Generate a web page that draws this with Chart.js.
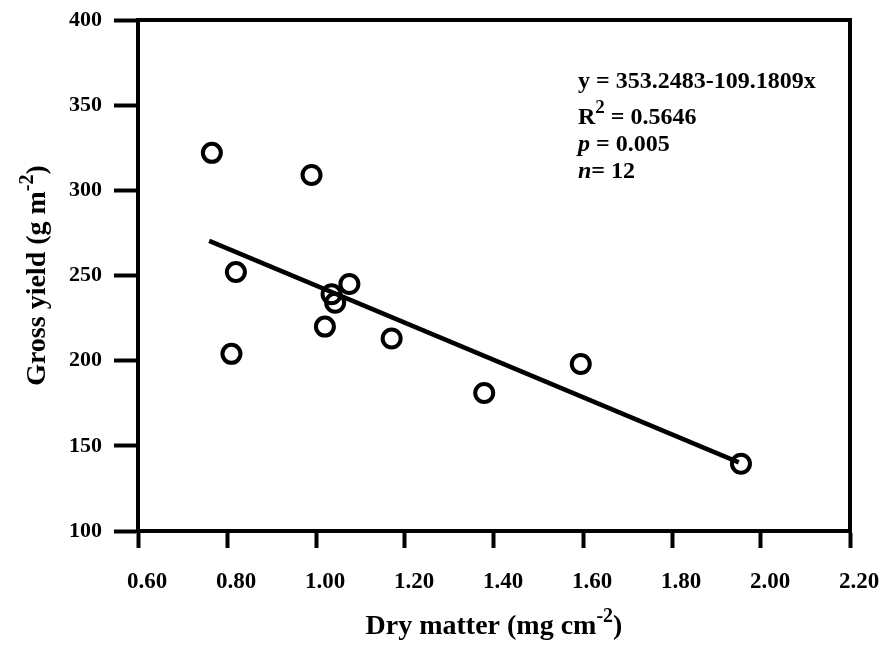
<!DOCTYPE html>
<html>
<head>
<meta charset="utf-8">
<script src="https://cdn.jsdelivr.net/npm/chart.js@4.4.0/dist/chart.umd.min.js"></script>
<style>
  html, body { margin: 0; padding: 0; background: #fff; }
  #wrap { width: 885px; height: 650px; }
</style>
</head>
<body>
<div id="wrap"><canvas id="chart"></canvas></div>
<script>
// observed points
const dryMatter = [0.766, 0.99, 0.82, 0.81, 1.02, 1.035, 1.043, 1.075, 1.17, 1.378, 1.595, 1.955];
const grossYield = [322, 309, 252, 204, 220, 239, 234, 245, 213, 181, 198, 139.5];

// regression line ends
const fitX = [0.76, 1.95];
const fitY = [270.3, 140.3];

const xTickValues = [0.6, 0.8, 1.0, 1.2, 1.4, 1.6, 1.8, 2.0, 2.2];
const xTickLabels = ['0.60', '0.80', '1.00', '1.20', '1.40', '1.60', '1.80', '2.00', '2.20'];
const yTickValues = [100, 150, 200, 250, 300, 350, 400];
const yTickLabels = ['100', '150', '200', '250', '300', '350', '400'];

const xTitle = [['Dry matter (mg cm', false], ['-2', true], [')', false]];
const yTitle = [['Gross yield (g m', false], ['-2', true], [')', false]];

const FONT = '"Liberation Serif", "Times New Roman", serif';

function setFont(ctx, size, italic) {
    ctx.font = (italic ? 'italic ' : '') + 'bold ' + size + 'px ' + FONT;
}

// runs: [text, size, italic, dy]
function runsWidth(ctx, runs) {
    let w = 0;
    runs.forEach(r => { setFont(ctx, r[1], r[2]); w += ctx.measureText(r[0]).width; });
    return w;
}

function drawRuns(ctx, x, y, runs) {
    runs.forEach(r => {
        setFont(ctx, r[1], r[2]);
        ctx.fillText(r[0], x, y + (r[3] || 0));
        x += ctx.measureText(r[0]).width;
    });
}

function titleRuns(parts) {
    return parts.map(p => p[1] ? [p[0], 20, false, -12] : [p[0], 28, false, 0]);
}

const decorations = {
    id: 'decorations',
    afterDraw(chart) {
        const ctx = chart.ctx;
        const a = chart.chartArea;
        ctx.save();

        // top and right frame
        ctx.strokeStyle = '#000';
        ctx.lineWidth = 4;
        ctx.lineCap = 'square';
        ctx.beginPath();
        ctx.moveTo(a.left, a.top);
        ctx.lineTo(a.right, a.top);
        ctx.lineTo(a.right, a.bottom);
        ctx.stroke();

        ctx.fillStyle = '#000';
        ctx.textBaseline = 'alphabetic';
        ctx.textAlign = 'left';

        // x title
        const xr = titleRuns(xTitle);
        const xw = runsWidth(ctx, xr);
        drawRuns(ctx, (a.left + a.right) / 2 - xw / 2, 634, xr);

        // y title
        const yr = titleRuns(yTitle);
        const yw = runsWidth(ctx, yr);
        ctx.save();
        ctx.translate(45, (a.top + a.bottom) / 2);
        ctx.rotate(-Math.PI / 2);
        drawRuns(ctx, -yw / 2, 0, yr);
        ctx.restore();

        // regression stats
        const sx = 578;
        drawRuns(ctx, sx, 88, [['y = 353.2483-109.1809x', 24, false]]);
        drawRuns(ctx, sx, 124, [['R', 24, false], ['2', 19, false, -11], [' = 0.5646', 24, false]]);
        drawRuns(ctx, sx, 151, [['p', 24, true], [' = 0.005', 24, false]]);
        drawRuns(ctx, sx, 178, [['n', 24, true], ['= 12', 24, false]]);

        ctx.restore();
    }
};

new Chart(document.getElementById('chart'), {
    type: 'scatter',
    data: {
        datasets: [
            {
                type: 'line',
                data: fitX.map((x, i) => ({ x: x, y: fitY[i] })),
                borderColor: '#000',
                borderWidth: 4.5,
                pointRadius: 0,
                fill: false
            },
            {
                type: 'scatter',
                data: dryMatter.map((x, i) => ({ x: x, y: grossYield[i] })),
                borderColor: '#000',
                backgroundColor: 'rgba(0,0,0,0)',
                borderWidth: 4,
                pointRadius: 9,
                pointHoverRadius: 9
            }
        ]
    },
    options: {
        responsive: true,
        maintainAspectRatio: false,
        animation: false,
        layout: { padding: { left: 0, top: 20, right: 35, bottom: 0 } },
        plugins: { legend: { display: false }, tooltip: { enabled: false } },
        scales: {
            x: {
                type: 'linear',
                min: 0.6,
                max: 2.2,
                afterBuildTicks: s => { s.ticks = xTickValues.map(v => ({ value: v })); },
                afterFit: s => { s.height = 119; s.paddingLeft = 0; s.paddingRight = 0; },
                grid: { drawOnChartArea: false, drawTicks: true, tickLength: 17, tickWidth: 4, tickColor: '#000' },
                border: { display: true, width: 4, color: '#000' },
                ticks: {
                    padding: 20,
                    labelOffset: 9,
                    color: '#000',
                    font: { family: FONT, size: 23, weight: 'bold' },
                    maxRotation: 0,
                    callback: (v, i) => xTickLabels[i]
                }
            },
            y: {
                type: 'linear',
                min: 100,
                max: 400,
                afterBuildTicks: s => { s.ticks = yTickValues.map(v => ({ value: v })); },
                afterFit: s => { s.width = 138; s.paddingTop = 0; s.paddingBottom = 0; },
                grid: { drawOnChartArea: false, drawTicks: true, tickLength: 24, tickWidth: 4, tickColor: '#000' },
                border: { display: true, width: 4, color: '#000' },
                ticks: {
                    padding: 12,
                    color: '#000',
                    font: { family: FONT, size: 22, weight: 'bold' },
                    callback: (v, i) => yTickLabels[i]
                }
            }
        }
    },
    plugins: [decorations]
});
</script>
</body>
</html>
